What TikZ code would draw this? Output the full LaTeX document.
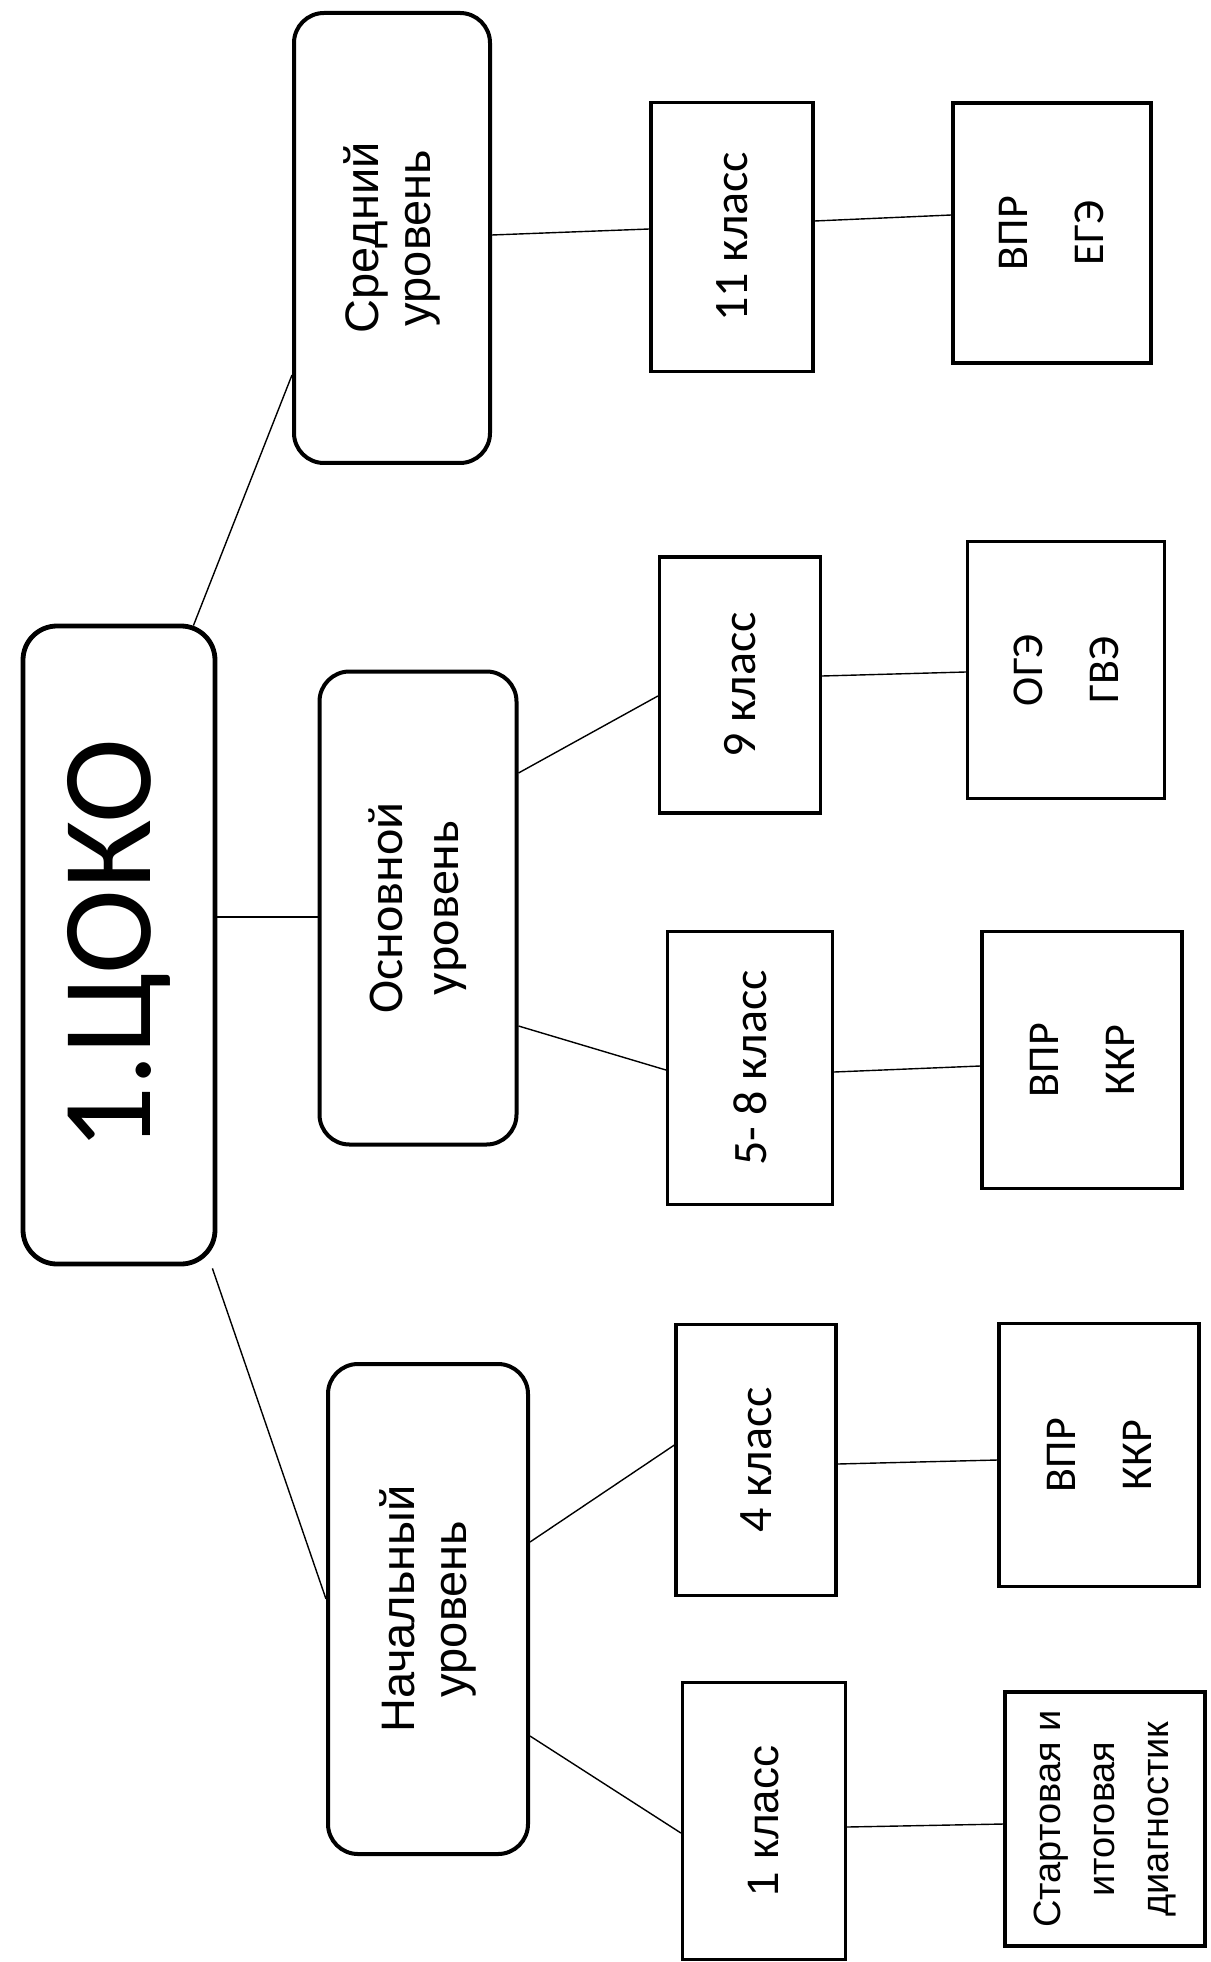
\documentclass[tikz,border=0pt]{standalone}
\usepackage{fontspec}
\usepackage{graphicx}
\setmainfont{Carlito}
\newfontfamily\arial{Liberation Sans}
\usetikzlibrary{calc}
\newcommand\vtext[2]{\rotatebox{90}{\vbox{\baselineskip=#1\halign{\hfil##\hfil\cr#2\crcr}}}}
\tikzset{
  lvlbox/.style={draw, line width=2pt, rounded corners=15pt, inner sep=0pt, anchor=center},
  clsbox/.style={draw, line width=1.6pt, inner sep=0pt, anchor=center},
  conn/.style={draw, line width=0.7pt}
}
\begin{document}
\begin{tikzpicture}[x=0.5pt,y=-0.5pt]
\useasboundingbox (0,0) rectangle (1210,1962);
% root
\node[lvlbox, rounded corners=17pt, line width=2.4pt, minimum width=96pt, minimum height=319pt] (coko) at (119,945)
  {\vtext{70pt}{\fontsize{64}{72}\selectfont 1.ЦОКО}};
% levels
\node[lvlbox, minimum width=98pt, minimum height=225pt] (sred) at (392,238)
  {\vtext{26pt}{\arial\fontsize{23.5}{26}\selectfont Средний\cr\arial\fontsize{23.5}{26}\selectfont уровень}};
\node[lvlbox, minimum width=98.5pt, minimum height=236.5pt] (osn) at (418,908)
  {\vtext{28pt}{\fontsize{25}{28}\selectfont Основной\cr\fontsize{25}{28}\selectfont уровень}};
\node[lvlbox, minimum width=100pt, minimum height=245pt] (nach) at (428,1609)
  {\vtext{26pt}{\arial\fontsize{23.5}{26}\selectfont Начальный\cr\arial\fontsize{23.5}{26}\selectfont уровень}};
% classes
\node[clsbox, minimum width=81pt, minimum height=134.5pt] (k11) at (732,237)
  {\vtext{28pt}{\fontsize{24}{28}\selectfont 11 класс}};
\node[clsbox, minimum width=80.5pt, minimum height=128pt] (k9) at (740,685)
  {\vtext{28pt}{\fontsize{24}{28}\selectfont 9 класс}};
\node[clsbox, minimum width=82.5pt, minimum height=136.5pt] (k58) at (750,1068)
  {\vtext{28pt}{\fontsize{24}{28}\selectfont 5- 8 класс}};
\node[clsbox, minimum width=80pt, minimum height=135.5pt] (k4) at (756,1460)
  {\vtext{28pt}{\fontsize{24}{28}\selectfont 4 класс}};
\node[clsbox, minimum width=81.5pt, minimum height=138.5pt] (k1) at (764,1821)
  {\vtext{28pt}{\arial\fontsize{22}{26}\selectfont 1 класс}};
% results
\node[clsbox, minimum width=99pt, minimum height=130pt] (ege) at (1052,233)
  {\vtext{38pt}{\fontsize{22}{26}\selectfont ВПР\cr\fontsize{22}{26}\selectfont ЕГЭ}};
\node[clsbox, minimum width=98.5pt, minimum height=128.5pt] (oge) at (1066,670)
  {\vtext{38pt}{\fontsize{22}{26}\selectfont ОГЭ\cr\fontsize{22}{26}\selectfont ГВЭ}};
\node[clsbox, minimum width=100pt, minimum height=128.5pt] (kkr2) at (1082,1060)
  {\vtext{38pt}{\fontsize{22}{26}\selectfont ВПР\cr\fontsize{22}{26}\selectfont ККР}};
\node[clsbox, minimum width=100pt, minimum height=131.5pt] (kkr1) at (1099,1455)
  {\vtext{38pt}{\fontsize{22}{26}\selectfont ВПР\cr\fontsize{22}{26}\selectfont ККР}};
\node[clsbox, minimum width=100pt, minimum height=127pt] (start) at (1105,1819)
  {\vtext{27pt}{\arial\fontsize{19}{27}\selectfont Стартовая и\cr\arial\fontsize{19}{27}\selectfont итоговая\cr\arial\fontsize{19}{27}\selectfont диагностик}};
% connectors
\draw[conn] ($(coko.north east)+(-24,2)$) -- ($(sred.west)+(0,137)$);
\draw[conn] ($(coko.east)+(0,-28)$) -- ($(osn.west)+(0,9)$);
\draw[conn] ($(coko.south east)+(-5,2)$) -- ($(nach.west)+(0,-10)$);
\draw[conn] ($(sred.east)+(0,-3)$) -- ($(k11.west)+(0,-8)$);
\draw[conn] ($(k11.east)+(0,-16)$) -- ($(ege.west)+(0,-18)$);
\draw[conn] ($(osn.east)+(0,-135)$) -- ($(k9.west)+(0,11)$);
\draw[conn] ($(osn.east)+(0,118)$) -- ($(k58.west)+(0,2)$);
\draw[conn] ($(k9.east)+(0,-9)$) -- ($(oge.west)+(0,2)$);
\draw[conn] ($(k58.east)+(0,4)$) -- ($(kkr2.west)+(0,6)$);
\draw[conn] ($(nach.east)+(0,-67)$) -- ($(k4.west)+(0,-15)$);
\draw[conn] ($(nach.east)+(0,127)$) -- ($(k1.west)+(0,12)$);
\draw[conn] ($(k4.east)+(0,4)$) -- ($(kkr1.west)+(0,5)$);
\draw[conn] ($(k1.east)+(0,6)$) -- ($(start.west)+(0,5)$);
\end{tikzpicture}
\end{document}
